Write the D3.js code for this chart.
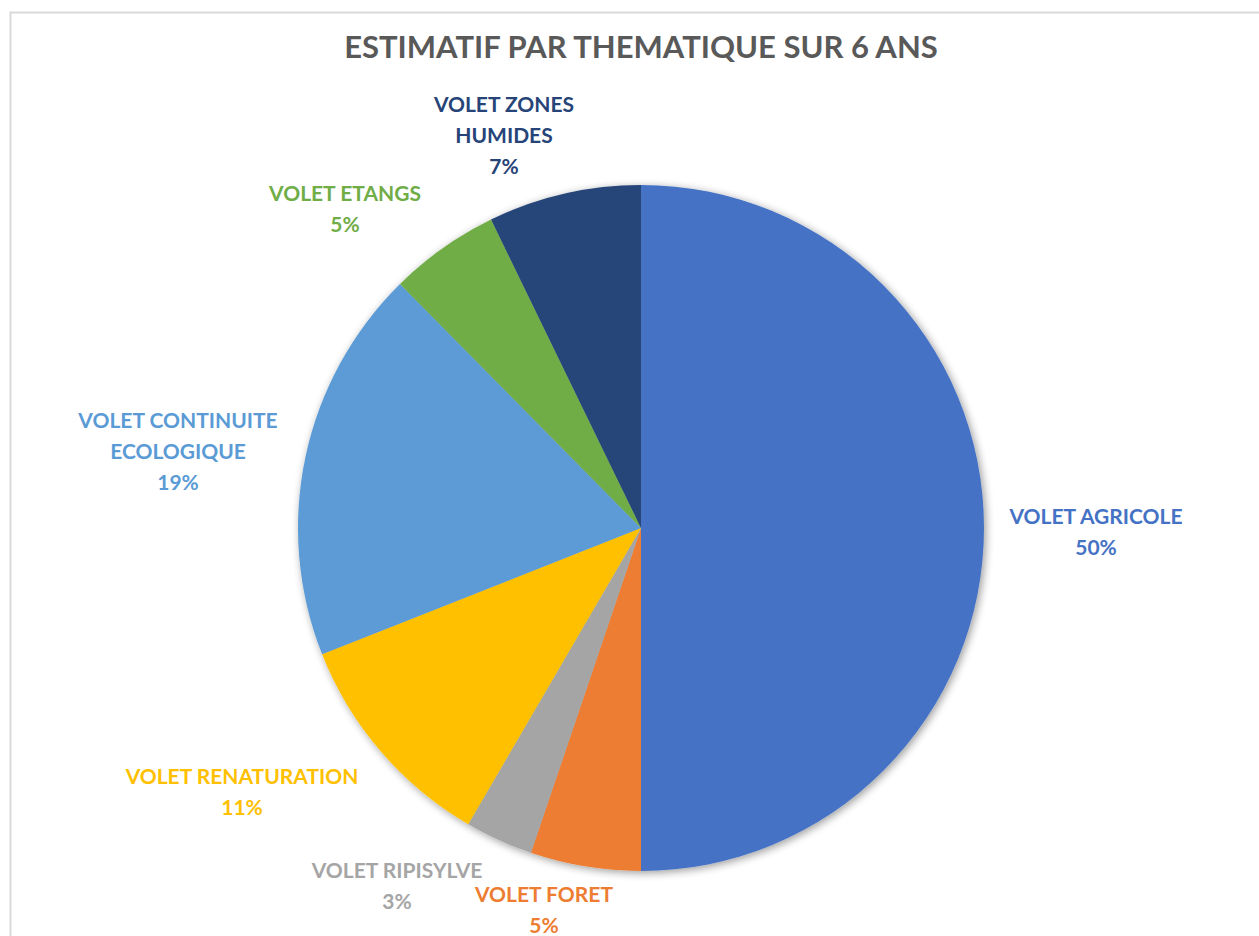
<!DOCTYPE html>
<html>
<head>
<meta charset="utf-8">
<script src="https://cdn.jsdelivr.net/npm/d3@7"></script>
<style>
  body { margin: 0; background: #fff; }
  text { font-family: Lato, "Open Sans", sans-serif; font-weight: bold; }
</style>
</head>
<body>
<svg class="chart"></svg>
<script>
// data (clockwise from 12 o'clock)
var categories = ["VOLET AGRICOLE", "VOLET FORET", "VOLET RIPISYLVE", "VOLET RENATURATION",
                  "VOLET CONTINUITE ECOLOGIQUE", "VOLET ETANGS", "VOLET ZONES HUMIDES"];
var values = [50, 5.2, 3.2, 10.6, 18.6, 5.2, 7.2];
var labelLines = [["VOLET AGRICOLE"], ["VOLET FORET"], ["VOLET RIPISYLVE"], ["VOLET RENATURATION"],
                  ["VOLET CONTINUITE", "ECOLOGIQUE"], ["VOLET ETANGS"], ["VOLET ZONES", "HUMIDES"]];
var colors = ["#4472C4", "#ED7D31", "#A5A5A5", "#FFC000", "#5B9BD5", "#70AD47", "#264478"];
// label anchor (center of first line), in page pixels
var labelPos = [[1096, 516], [544, 894], [397, 870], [242, 776], [178, 420], [345, 193], [504, 104]];

var width = 1259, height = 936;
var cx = 641, cy = 528, radius = 343;

var svg = d3.select(".chart").attr("width", width).attr("height", height);

// frame
svg.append("path")
  .attr("d", "M10.5," + height + " V12.5 H" + width)
  .attr("fill", "none")
  .attr("stroke", "#d9d9d9")
  .attr("stroke-width", 2);

// soft shadow
var defs = svg.append("defs");
var f = defs.append("filter").attr("id", "shadow")
  .attr("x", "-10%").attr("y", "-10%").attr("width", "120%").attr("height", "120%");
f.append("feGaussianBlur").attr("in", "SourceAlpha").attr("stdDeviation", 4);
f.append("feOffset").attr("dx", 2).attr("dy", 2).attr("result", "b");
f.append("feComponentTransfer").append("feFuncA").attr("type", "linear").attr("slope", 0.4);
var m = f.append("feMerge");
m.append("feMergeNode");
m.append("feMergeNode").attr("in", "SourceGraphic");

// title
svg.append("text")
  .attr("x", cx).attr("y", 58)
  .attr("text-anchor", "middle")
  .attr("font-size", 31)
  .attr("fill", "#595959")
  .text("ESTIMATIF PAR THEMATIQUE SUR 6 ANS");

var pie = d3.pie().sort(null).value(function(d){ return d; });
var arc = d3.arc().innerRadius(0).outerRadius(radius);
var arcs = pie(values);

var g = svg.append("g").attr("transform", "translate(" + cx + "," + cy + ")");
g.append("g").attr("filter", "url(#shadow)")
  .selectAll("path")
  .data(arcs)
  .enter().append("path")
  .attr("d", arc)
  .attr("fill", function(d, i){ return colors[i]; });

var total = d3.sum(values);

// labels
var lab = svg.append("g").selectAll("text")
  .data(arcs)
  .enter().append("text")
  .attr("text-anchor", "middle")
  .attr("font-size", 21)
  .attr("fill", function(d, i){ return colors[i]; })
  .attr("transform", function(d, i){ return "translate(" + labelPos[i][0] + "," + (labelPos[i][1] + 8) + ")"; });

lab.each(function(d, i){
  var t = d3.select(this);
  var lines = labelLines[i].concat([Math.round(values[i] / total * 100) + "%"]);
  lines.forEach(function(s, j){
    t.append("tspan").attr("x", 0).attr("y", j * 31).text(s);
  });
});
</script>
</body>
</html>
